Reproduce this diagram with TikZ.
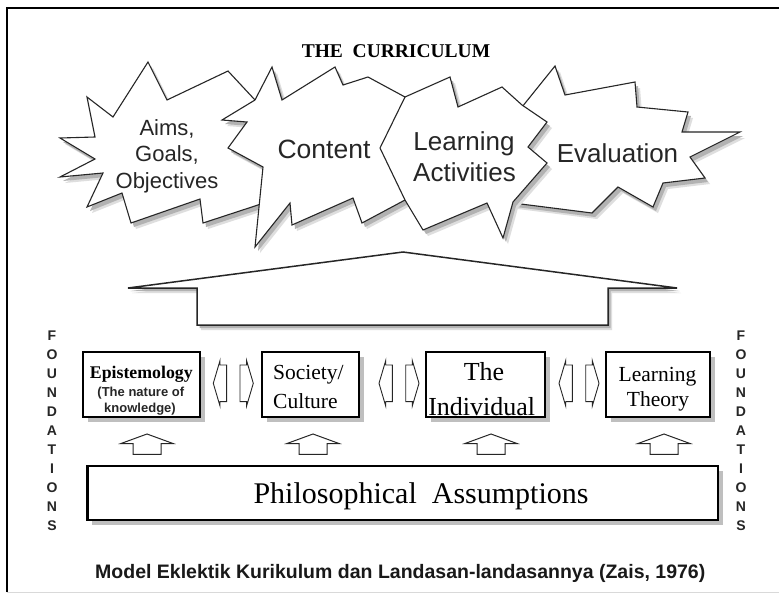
\documentclass[tikz,border=0pt]{standalone}
\usepackage{fontspec}
\setmainfont{Liberation Serif}
\newfontfamily\arialf{Liberation Sans}
\usetikzlibrary{shadows}
\tikzset{
  startxt/.style={inner sep=0pt, anchor=base, text=black!85},
  serif/.style={inner sep=0pt, anchor=base, text=black},
  fbox/.style={draw=black, line width=2pt, fill=white, inner sep=0pt,
     drop shadow={shadow xshift=5pt, shadow yshift=-5pt, fill=black!25, opacity=1}},
  ftxt/.style={inner sep=0pt, anchor=base, font=\arialf\bfseries\fontsize{14}{16}\selectfont, text=black!85},
  uparr/.pic={\draw[line width=1pt, draw=black!85, fill=white, line join=miter] (0,0) -- (26,9.5) -- (14,9.5) -- (14,20.3) -- (-14,20.3) -- (-14,9.5) -- (-26,9.5) -- cycle;},
  lpiece/.pic={\draw[line width=0.9pt, draw=black!85, fill=white] (0,0) -- (6.7,-22.7) -- (6.7,-18.3) -- (13.3,-18.3) -- (13.3,18.3) -- (6.7,18.3) -- (6.7,22.7) -- cycle;},
  rpiece/.pic={\draw[line width=0.9pt, draw=black!85, fill=white] (0,0) -- (-6.7,-22.7) -- (-6.7,-18.3) -- (-13.3,-18.3) -- (-13.3,18.3) -- (-6.7,18.3) -- (-6.7,22.7) -- cycle;}
}
\newcommand\shadowedshape[1]{%
  \fill[black!13, shift={(5,6)}] #1;
  \fill[black!30, shift={(3,4)}] #1;
  \filldraw[fill=white, draw=black!85, line width=1.1pt] #1;}
\def\starA{(148,62) -- (167,100) -- (228,71) -- (255,100) -- (285,150) -- (261,204) -- (203,223) -- (200,199) -- (131,223) -- (122,193) -- (87,207) -- (103,173) -- (60,177) -- (95,159) -- (60,138) -- (95,137) -- (87,97) -- (113,117) -- cycle}
\def\starC{(272,67) -- (282,100) -- (335,67) -- (343,85) -- (368,77) -- (405,97) -- (405,200) -- (362,223) -- (353,198) -- (292,225) -- (290,203) -- (255,247) -- (263,167) -- (228,148) -- (247,122) -- (222,120) -- (255,100) -- cycle}
\def\starE{(522,107) -- (555,66) -- (565,95) -- (635,82) -- (637,107) -- (688,112) -- (682,132) -- (740,132) -- (690,157) -- (705,178) -- (663,183) -- (653,207) -- (618,187) -- (592,213) -- (513,203) -- (520,150) -- cycle}
\def\starL{(405,97) -- (450,77) -- (458,107) -- (502,87) -- (522,105) -- (547,122) -- (528,147) -- (547,163) -- (513,202) -- (503,238) -- (487,203) -- (423,230) -- (405,200) -- (380,148) -- cycle}
\def\roof{(128,288) -- (403,252) -- (677,288) -- (608,288) -- (608,325) -- (197,325) -- (197,288) -- cycle}
\begin{document}
\begin{tikzpicture}[x=1pt,y=-1pt]
\useasboundingbox (0,0) rectangle (779,595);
\fill[white] (0,0) rectangle (779,595);
% frame
\draw[black!15, line width=1pt] (7,592) -- (779,592);
\draw[line width=2.5pt] (7,592) -- (7,8) -- (779,8);
% title
\node[serif, font=\bfseries\fontsize{19.5}{23}\selectfont] (title) at (396,57) {THE\ \ CURRICULUM};
% stars
\shadowedshape{\starA}
\shadowedshape{\starC}
\shadowedshape{\starE}
\shadowedshape{\starL}
\node[startxt, font=\arialf\fontsize{22}{26}\selectfont] (aims1) at (167,135) {Aims,};
\node[startxt, font=\arialf\fontsize{22}{26}\selectfont] (aims2) at (167,161) {Goals,};
\node[startxt, font=\arialf\fontsize{22}{26}\selectfont] (aims3) at (167,188) {Objectives};
\node[startxt, font=\arialf\fontsize{26.5}{30}\selectfont] (content) at (324,158) {Content};
\node[startxt, font=\arialf\fontsize{26}{30}\selectfont] (learn1) at (464,150) {Learning};
\node[startxt, font=\arialf\fontsize{26}{30}\selectfont] (learn2) at (464.5,181.7) {Activities};
\node[startxt, font=\arialf\fontsize{26}{30}\selectfont] (eval) at (617.5,162) {Evaluation};
% roof
\fill[black!13, shift={(4,5)}] \roof;
\fill[black!30, shift={(2.5,3)}] \roof;
\filldraw[fill=white, draw=black!85, line width=1.5pt, line join=miter] \roof;
% foundation boxes
\node[fbox, minimum width=117.3pt, minimum height=65pt] (epi) at (141.3,384.2) {};
\node[fbox, minimum width=97pt, minimum height=65pt] (soc) at (310.8,384.2) {};
\node[fbox, minimum width=119pt, minimum height=65pt] (ind) at (485.5,384.2) {};
\node[fbox, minimum width=104.3pt, minimum height=65pt] (lth) at (657.9,384.2) {};
\node[fbox, line width=2.5pt, minimum width=630.5pt, minimum height=54.3pt] (phil) at (402.5,492.9) {};
% box texts
\node[serif, font=\bfseries\fontsize{17.8}{20}\selectfont] (epi1) at (141.3,378.5) {Epistemology};
\node[serif, font=\arialf\bfseries\fontsize{13}{15}\selectfont, text=black!85] (epi2) at (140.8,396.3) {(The nature of};
\node[serif, font=\arialf\bfseries\fontsize{13}{15}\selectfont, text=black!85] (epi3) at (140,412.3) {knowledge)};
\node[serif, anchor=base west, font=\fontsize{21.5}{25}\selectfont] (soc1) at (273,379.5) {Society/};
\node[serif, anchor=base west, font=\fontsize{21.5}{25}\selectfont] (soc2) at (273,408) {Culture};
\node[serif, font=\fontsize{26}{30}\selectfont] (ind1) at (484,380) {The};
\node[serif, font=\fontsize{26}{30}\selectfont] (ind2) at (481.7,415) {Individual};
\node[serif, font=\fontsize{21.5}{25}\selectfont] (lth1) at (657.5,381) {Learning};
\node[serif, font=\fontsize{21.5}{25}\selectfont] (lth2) at (658,406.5) {Theory};
\node[serif, anchor=base west, font=\fontsize{30}{34}\selectfont] (phil1) at (253.3,503.3) {Philosophical\ \ Assumptions};
% double arrows between boxes
\pic at (213.3,383.3) {lpiece};
\pic at (253.3,383.3) {rpiece};
\pic at (379,383.3) {lpiece};
\pic at (419,383.3) {rpiece};
\pic at (559,383.3) {lpiece};
\pic at (599,383.3) {rpiece};
% up arrows
\pic at (147,434) {uparr};
\pic at (313,434) {uparr};
\pic at (491,434) {uparr};
\pic at (664,434) {uparr};
% FOUNDATIONS
\foreach \l [count=\i from 0] in {F,O,U,N,D,A,T,I,O,N,S} {
  \node[ftxt] (fl\i) at (52,{340+19*\i}) {\l};
  \node[ftxt] (fr\i) at (741,{340+19*\i}) {\l};
}
% caption
\node[inner sep=0pt, anchor=base west, text=black!90, font=\arialf\bfseries\fontsize{19.5}{23}\selectfont] (cap) at (95,578) {Model Eklektik Kurikulum dan Landasan-landasannya (Zais, 1976)};
\end{tikzpicture}
\end{document}
